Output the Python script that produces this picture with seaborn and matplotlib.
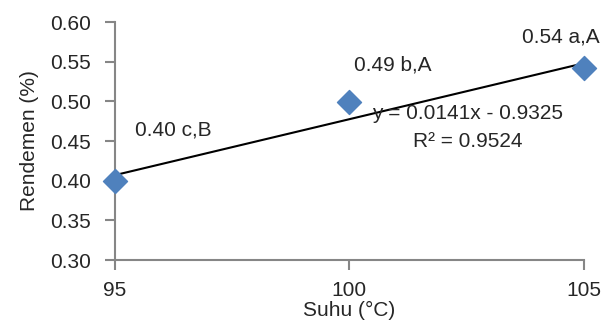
import numpy as np
import pandas as pd
import matplotlib
matplotlib.use('Agg')
import matplotlib.pyplot as plt
import seaborn as sns

suhu = [95, 100, 105]
rendemen = [0.40, 0.499, 0.542]
labels = ['0.40 c,B', '0.49 b,A', '0.54 a,A']
slope = 0.0141
intercept = -0.9325
r2 = 0.9524

sns.set_style('white')
plt.rcParams['font.family'] = ['Liberation Sans Narrow', 'Liberation Sans', 'DejaVu Sans']

data = pd.DataFrame({'Suhu': suhu, 'Rendemen': rendemen})
trend = pd.DataFrame({'Suhu': [suhu[0], suhu[-1]]})
trend['Rendemen'] = slope * trend['Suhu'] + intercept

fig = plt.figure(figsize=(6.05, 3.31), dpi=100)
ax = fig.add_axes([0.190, 0.2145, 0.775, 0.719])

sns.lineplot(data=trend, x='Suhu', y='Rendemen', color='black', linewidth=1.5, ax=ax)
sns.scatterplot(data=data, x='Suhu', y='Rendemen', marker='D', s=150, color='#4F81BD',
                edgecolor='#4F81BD', ax=ax, zorder=3, clip_on=False)

# point labels
offs = [(0.43, 0.064), (0.1, 0.047), (-1.32, 0.039)]
for x, y, t, (dx, dy) in zip(suhu, rendemen, labels, offs):
    ax.text(x + dx, y + dy, t, fontsize=15, va='center', ha='left')

ax.text(102.53, 0.485, 'y = 0.0141x - 0.9325', fontsize=15, ha='center', va='center')
ax.text(102.53, 0.449, 'R² = 0.9524', fontsize=15, ha='center', va='center')

ax.set_xlim(95, 105)
ax.set_ylim(0.30, 0.60)
ax.set_xticks([95, 100, 105])
ax.set_yticks(np.arange(0.30, 0.601, 0.05))
ax.set_yticklabels(['%.2f' % v for v in np.arange(0.30, 0.601, 0.05)])
ax.tick_params(axis='both', labelsize=15, length=7, width=1.5, color='#868686',
               direction='out', left=True, bottom=True)
ax.tick_params(axis='x', pad=8)
ax.tick_params(axis='y', pad=10)
ax.set_xlabel('Suhu (°C)', fontsize=15, labelpad=1)
ax.set_ylabel('Rendemen (%)', fontsize=15, labelpad=8)

sns.despine(ax=ax)
for s in ['left', 'bottom']:
    ax.spines[s].set_color('#868686')
    ax.spines[s].set_linewidth(1.5)

fig.savefig('out.png', dpi=100)
